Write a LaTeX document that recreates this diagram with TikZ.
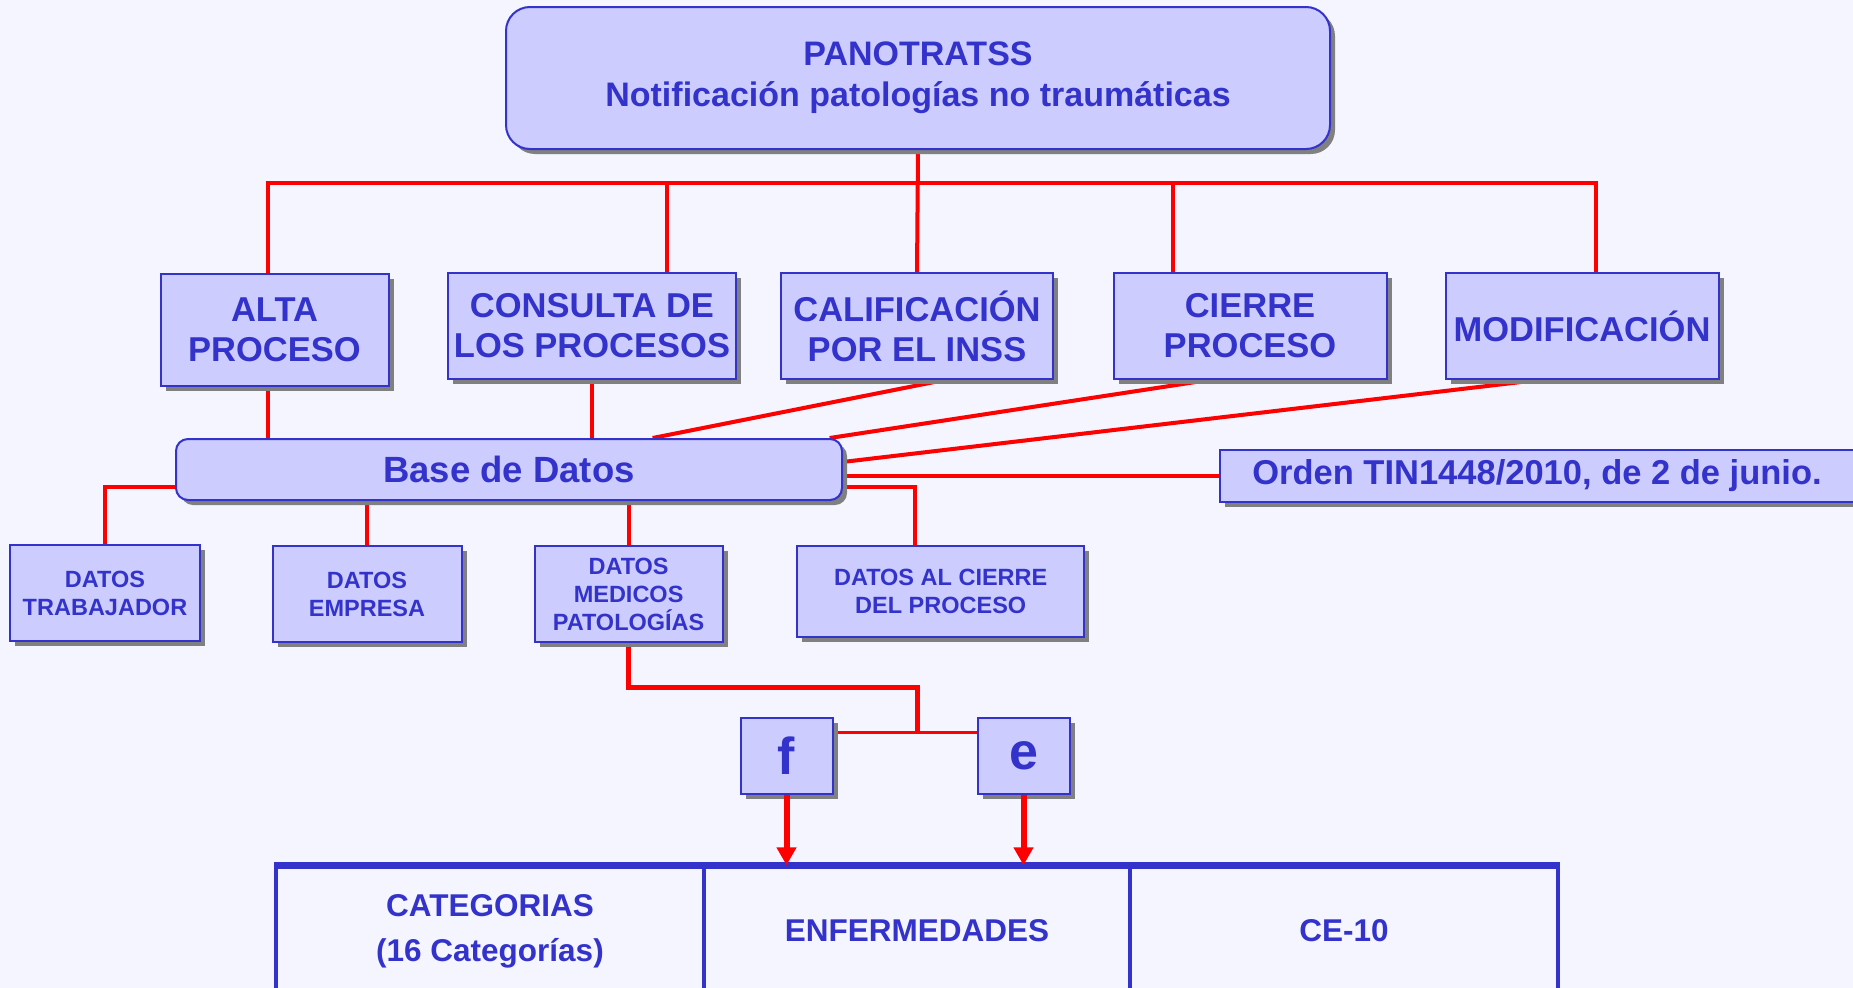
\documentclass[tikz,border=0pt]{standalone}
\usepackage{fontspec}
\setmainfont{Liberation Sans}
\usetikzlibrary{calc,shadows,backgrounds,arrows.meta}
\definecolor{fondoazul}{RGB}{244,245,255}
\definecolor{rellenoazul}{RGB}{204,204,255}
\definecolor{azul}{RGB}{51,51,204}
\definecolor{rojo}{RGB}{255,0,0}
\definecolor{sombra}{RGB}{128,128,128}
\def\fs#1#2{\fontsize{#1}{#2}\selectfont}
\tikzset{
  proc/.style={rectangle, draw=azul, line width=2, fill=rellenoazul, text=azul,
    align=center, inner sep=0,
    general shadow={fill=sombra, shadow xshift=5pt, shadow yshift=-5pt}},
  redonda/.style={proc, rounded corners=#1},
  celda/.style={rectangle, draw=azul, line width=3.5, text=azul, align=center,
    inner sep=0, minimum height=128, font=\bfseries\fs{31.5}{45}},
  linea/.style={draw=rojo, line width=4},
  flecha/.style={linea, line width=6, -{Triangle[length=18pt,width=19pt]}}
}

\begin{document}
\begin{tikzpicture}[x=1pt,y=-1pt]
		%%%%% START %%%%%
		\useasboundingbox (0,0) rectangle (1853,988);
		
		% cabecera
		\node[redonda=24, minimum width=824, minimum height=142, font=\bfseries\fs{34}{41}] (top) at (918,78) {PANOTRATSS\\Notificación patologías no traumáticas};
		\coordinate (bus) at (917,183);
		
		% procesos
		\node[proc, minimum width=228, minimum height=112, font=\bfseries\fs{34.5}{40}] (alta) at (274.5,329.5) {ALTA\\PROCESO};
		\node[proc, minimum width=288, minimum height=106, font=\bfseries\fs{34.5}{40}] (consulta) at (592,326) {CONSULTA DE\\LOS PROCESOS};
		\node[proc, minimum width=272, minimum height=106, font=\bfseries\fs{34.5}{40}] (calif) at (917,326) {CALIFICACIÓN\\POR EL INSS};
		\node[proc, minimum width=273, minimum height=106, font=\bfseries\fs{34.5}{40}] (cierre) at (1250,326) {CIERRE\\PROCESO};
		\node[proc, minimum width=273, minimum height=106, font=\bfseries\fs{34.5}{40}] (modif) at (1582,326) {MODIFICACIÓN};
		
		% base de datos
		\node[redonda=12, minimum width=666, minimum height=61, font=\bfseries\fs{36.5}{40}] (base) at (509,469.5) {Base de Datos};
		\node[proc, minimum width=634, minimum height=52, font=\bfseries\fs{34.5}{40}] (orden) at (1537,475.5) {Orden TIN1448/2010, de 2 de junio.};
		
		% datos
		\node[proc, minimum width=190, minimum height=96, font=\bfseries\fs{23.5}{28}] (trab) at (105,593) {DATOS\\TRABAJADOR};
		\node[proc, minimum width=189, minimum height=96, font=\bfseries\fs{23.5}{28}] (empresa) at (367,594) {DATOS\\EMPRESA};
		\node[proc, minimum width=188, minimum height=96, font=\bfseries\fs{23.5}{28}] (medicos) at (628.6,594) {DATOS\\MEDICOS\\PATOLOGÍAS};
		\node[proc, minimum width=287, minimum height=91, font=\bfseries\fs{23.5}{28}] (dcierre) at (940.7,591.5) {DATOS AL CIERRE\\DEL PROCESO};
		
		\node[proc, minimum width=92, minimum height=76, font=\bfseries\fs{52}{52}] (fbox) at (786.5,756) {f};
		\node[proc, minimum width=92, minimum height=76, font=\bfseries\fs{52}{52}] (ebox) at (1023.5,756) {e};
		
		% tabla
		\node[celda, minimum width=428] (cat) at (490,931) {CATEGORIAS\\(16 Categorías)};
		\node[celda, minimum width=426] (enf) at (917,931) {ENFERMEDADES};
		\node[celda, minimum width=428] (ce) at (1344,931) {CE-10};
		\draw[azul, line width=7] (cat.north west) -- (ce.north east);
		
		\coordinate (altaB) at ($(alta.south west)!0.47!(alta.south east)$);
		\coordinate (baseL) at ($(base.north west)!0.77!(base.south west)$);
		\coordinate (baseR) at ($(base.north east)!0.77!(base.south east)$);
		\coordinate (dcierreT) at ($(dcierre.north west)!0.41!(dcierre.north east)$);
		\coordinate (fR) at ($(fbox.north east)!0.2!(fbox.south east)$);
		\coordinate (split) at (917,733);
		
		\begin{scope}[on background layer]
		\fill[fondoazul] (0,0) rectangle (1853,988);
		
		\draw[linea] (top.south) -- (calif.north);
		\foreach \n/\f in {alta/0.47,consulta/0.76,cierre/0.22,modif/0.55}
			\draw[linea] ($(\n.north west)!\f!(\n.north east)$) |- (bus);
		
		\draw[linea] (altaB) -- (altaB |- base.north);
		\draw[linea] (consulta.south) -- (consulta.south |- base.north);
		\draw[linea] ($(calif.south west)!0.6!(calif.south east)$) -- ($(base.north west)!0.715!(base.north east)$);
		\draw[linea] ($(cierre.south west)!0.35!(cierre.south east)$) -- ($(base.north west)!0.98!(base.north east)$);
		\draw[linea] ($(modif.south west)!0.34!(modif.south east)$) -- ($(base.north east)!0.38!(base.south east)$);
		\draw[linea] (orden.west) -- (orden.west -| base.east);
		
		\draw[linea] (baseL) -| (trab.north);
		\draw[linea] (empresa.north) -- (empresa.north |- base.south);
		\draw[linea] (medicos.north) -- (medicos.north |- base.south);
		\draw[linea] (baseR) -| (dcierreT);
		
		\draw[linea, line width=5] (medicos.south) |- ($(split)+(0,-46)$) -- (split);
		\draw[linea, line width=3.5] (fR) -- (fR -| ebox.west);
		\end{scope}
		
		\draw[flecha] (fbox.south) -- (fbox.south |- cat.north);
		\draw[flecha] (ebox.south) -- (ebox.south |- enf.north);
		%%%%% END %%%%%
\end{tikzpicture}
\end{document}
